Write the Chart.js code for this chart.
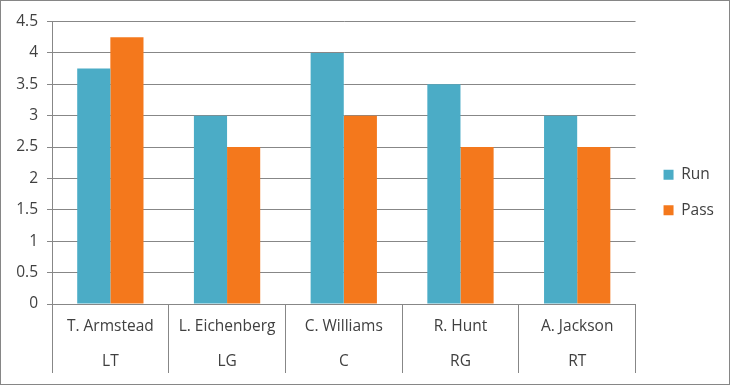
<!DOCTYPE html>
<html><head><meta charset="utf-8">
<script src="https://cdn.jsdelivr.net/npm/chart.js@4"></script>
<style>
html,body{margin:0;padding:0;background:#fff;}
#wrap{width:728px;height:383px;border:1px solid #868686;position:relative;}
canvas{display:block;}
</style></head>
<body><div id="wrap"><canvas id="c" width="728" height="383"></canvas></div>
<script>
const players = ["T. Armstead","L. Eichenberg","C. Williams","R. Hunt","A. Jackson"];
const positions = ["LT","LG","C","RG","RT"];
const runValues = [3.75,3,4,3.5,3];
const passValues = [4.25,2.5,3,2.5,2.5];
const yTicks = [0,0.5,1,1.5,2,2.5,3,3.5,4,4.5];

const FONT = "'Open Sans', Lato, sans-serif";
const FS = 15.5;
const GRID = '#878787';
const TXT = '#404040';
const labels = players.map((p,i)=>[p, positions[i]]);

new Chart(document.getElementById('c'), {
  type:'bar',
  data:{labels, datasets:[
    {label:'Run', data:runValues, backgroundColor:'#4BACC6', borderWidth:0},
    {label:'Pass', data:passValues, backgroundColor:'#F4781C', borderWidth:0}
  ]},
  options:{
    responsive:false, animation:false,
    layout:{padding:{top:0,bottom:0,left:0,right:5}},
    datasets:{bar:{categoryPercentage:0.568, barPercentage:1}},
    plugins:{
      legend:{position:'right', align:'center',
        labels:{boxWidth:10, boxHeight:10, padding:20, color:TXT, font:{family:FONT,size:FS}}},
      tooltip:{enabled:false}
    },
    scales:{
      x:{
        grid:{offset:true, drawOnChartArea:false, tickLength:69, color:GRID},
        border:{color:GRID},
        ticks:{padding:-63.5, color:TXT, maxRotation:0, autoSkip:false,
          font:{family:FONT,size:FS,lineHeight:2.26}},
        afterFit(s){ s.height = 80; }
      },
      xTop:{
        type:'category', position:'top', display:true,
        grid:{display:false}, border:{display:false}, ticks:{display:false},
        afterFit(s){ s.height = 20.5; }
      },
      y:{
        min:0, max:4.5,
        afterBuildTicks(s){ s.ticks = yTicks.map(v=>({value:v})); },
        grid:{color:GRID, tickLength:5},
        border:{color:GRID},
        ticks:{padding:9, color:TXT, font:{family:FONT,size:FS}, callback:v=>String(v)},
        afterFit(s){ s.width = 51; }
      },
      yR:{
        type:'linear', position:'right', display:true,
        grid:{display:false}, border:{display:false}, ticks:{display:false},
        afterFit(s){ s.width = 8; }
      }
    }
  }
});
</script></body></html>
